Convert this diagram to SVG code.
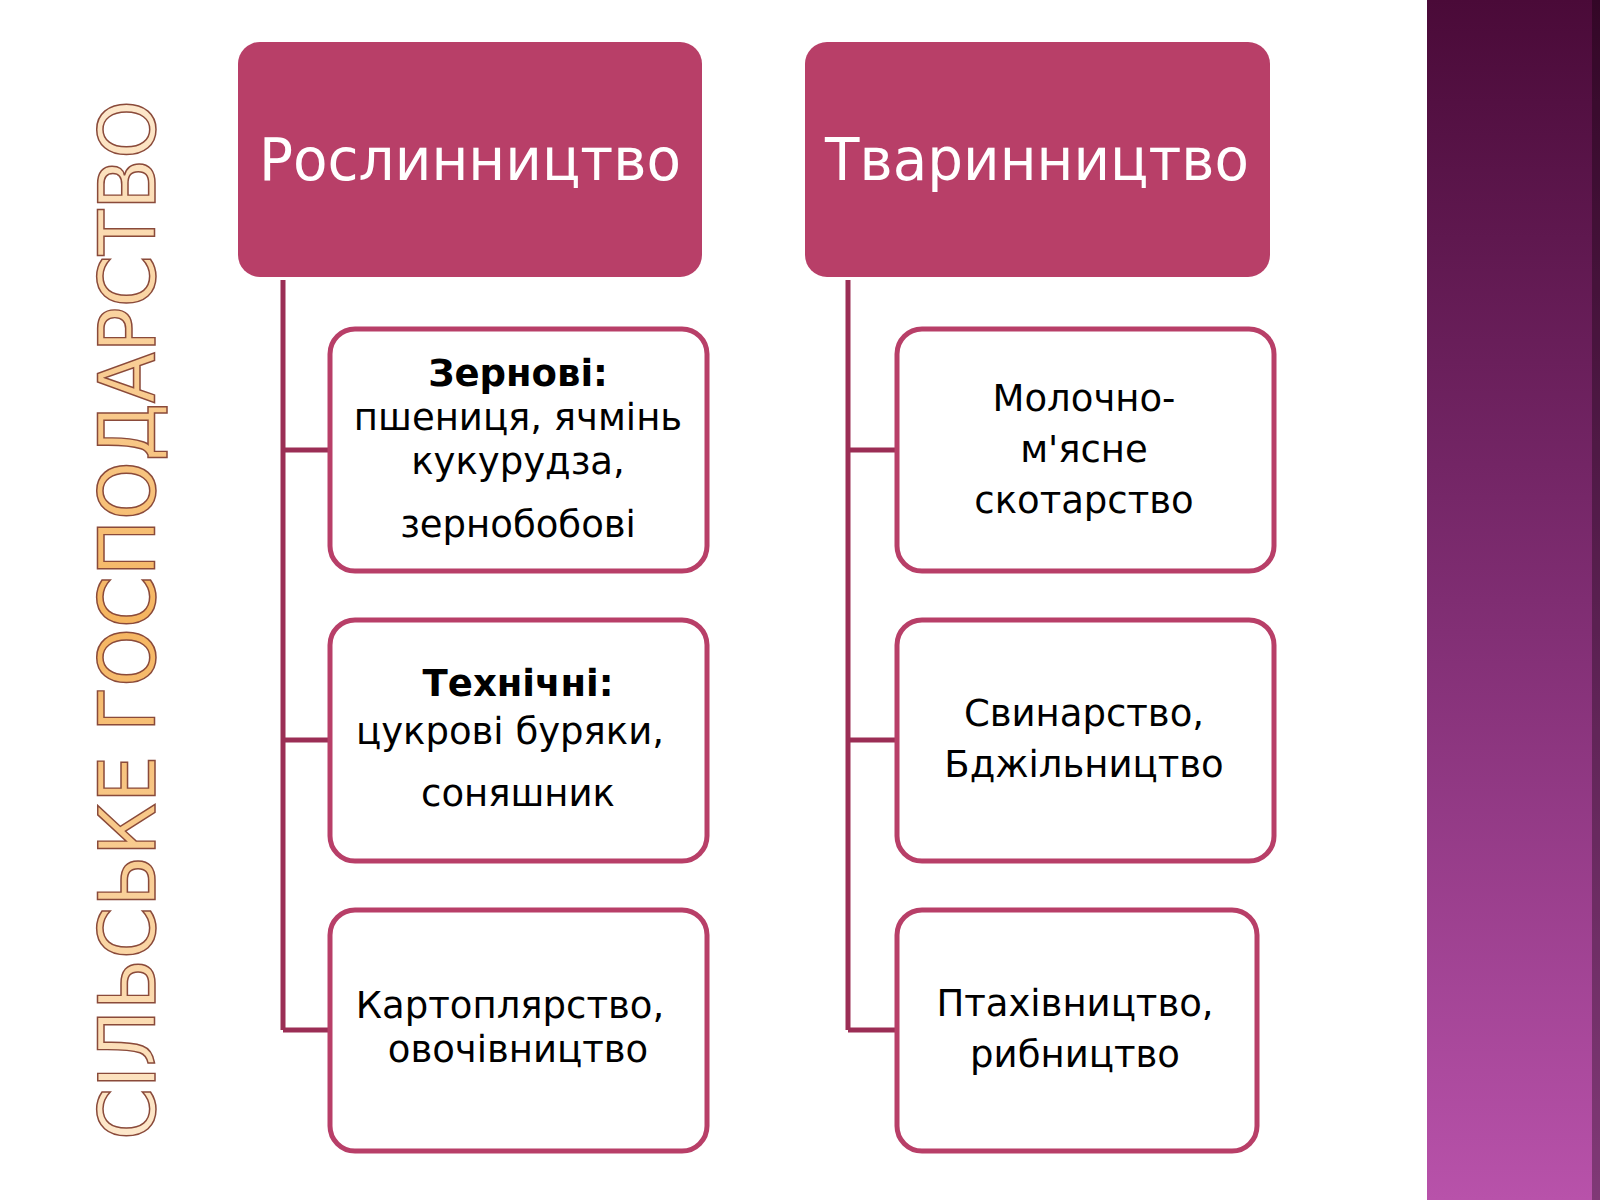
<svg xmlns="http://www.w3.org/2000/svg" width="1600" height="1200" viewBox="0 0 1600 1200">
<defs>
<linearGradient id="band" x1="0" y1="0" x2="0" y2="1"><stop offset="0" stop-color="#4a0a38"/><stop offset="0.5" stop-color="#7f2d72"/><stop offset="1" stop-color="#b852aa"/></linearGradient>
<linearGradient id="title" x1="0" y1="0" x2="1" y2="0"><stop offset="0" stop-color="#fde8cc"/><stop offset="0.5" stop-color="#f5b560"/><stop offset="1" stop-color="#fde8cc"/></linearGradient>
<style>
.hd{fill:#b83f68}
.hdt{font-family:"DejaVu Sans",sans-serif;font-size:58px;fill:#fff;text-anchor:middle}
.ch{fill:#fff;stroke:#b83f68;stroke-width:5}
.t{font-family:"DejaVu Sans",sans-serif;font-size:37px;fill:#000;text-anchor:middle}
.b{font-weight:bold}
.c{stroke:#9b2e55;stroke-width:5;fill:none}
</style>
</defs>
<rect width="1600" height="1200" fill="#fff"/>
<rect x="1427" y="0" width="173" height="1200" fill="url(#band)"/>
<rect x="1592" y="0" width="8" height="1200" fill="#000" opacity="0.3"/>
<text transform="translate(155,1140) rotate(-90)" font-family="DejaVu Sans,sans-serif" font-size="78" fill="url(#title)" stroke="#8a4a3a" stroke-width="1.5" textLength="1040" lengthAdjust="spacingAndGlyphs">СІЛЬСЬКЕ ГОСПОДАРСТВО</text>
<g id="connectors">
<path class="c" d="M283 280V1030M283 450H330M283 740H330M283 1030H330"/>
<path class="c" d="M848 280V1030M848 450H897M848 740H897M848 1030H897"/>
</g>
<g id="h1"><rect class="hd" x="238" y="42" width="464" height="235" rx="22"/><text class="hdt" x="470" y="180" textLength="422" lengthAdjust="spacingAndGlyphs">Рослинництво</text></g>
<g id="h2"><rect class="hd" x="805" y="42" width="465" height="235" rx="22"/><text class="hdt" x="1037" y="180" textLength="424" lengthAdjust="spacingAndGlyphs">Тваринництво</text></g>
<g id="l1"><rect class="ch" x="330" y="329" width="377" height="242" rx="25"/><text class="t"><tspan class="b" x="518" y="386">Зернові:</tspan><tspan x="518" y="430">пшениця, ячмінь</tspan><tspan x="518" y="474">кукурудза,</tspan><tspan x="518" y="537">зернобобові</tspan></text></g>
<g id="l2"><rect class="ch" x="330" y="620" width="377" height="241" rx="25"/><text class="t"><tspan class="b" x="518" y="696">Технічні:</tspan><tspan x="510" y="744">цукрові буряки,</tspan><tspan x="518" y="806">соняшник</tspan></text></g>
<g id="l3"><rect class="ch" x="330" y="910" width="377" height="241" rx="25"/><text class="t"><tspan x="510" y="1018">Картоплярство,</tspan><tspan x="518" y="1062">овочівництво</tspan></text></g>
<g id="r1"><rect class="ch" x="897" y="329" width="377" height="242" rx="25"/><text class="t" font-size="44"><tspan x="1084" y="411">Молочно-</tspan><tspan x="1084" y="462">м'ясне</tspan><tspan x="1084" y="513">скотарство</tspan></text></g>
<g id="r2"><rect class="ch" x="897" y="620" width="377" height="241" rx="25"/><text class="t" font-size="44"><tspan x="1084" y="726">Свинарство,</tspan><tspan x="1084" y="777">Бджільництво</tspan></text></g>
<g id="r3"><rect class="ch" x="897" y="910" width="360" height="241" rx="25"/><text class="t" font-size="44"><tspan x="1075" y="1016">Птахівництво,</tspan><tspan x="1075" y="1067">рибництво</tspan></text></g>
</svg>
